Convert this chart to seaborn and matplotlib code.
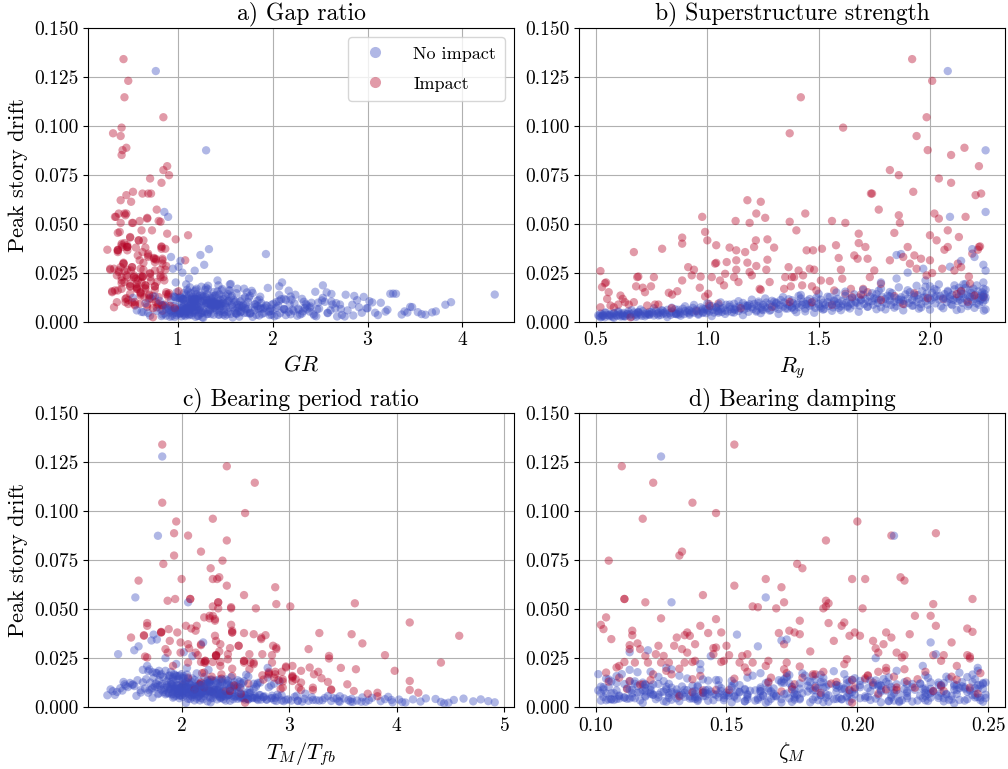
import numpy as np
import pandas as pd
import matplotlib
matplotlib.use("Agg")
import matplotlib.pyplot as plt
import seaborn as sns
from matplotlib.lines import Line2D
from matplotlib.ticker import MultipleLocator, FormatStrFormatter

# ---------------------------------------------------------------------------
# Isolation-system parameter study: one row per ground-motion run.
# Columns: gap ratio, superstructure strength Ry, bearing period ratio,
# bearing damping, peak story drift.  Runs split by whether impact occurred.
# ---------------------------------------------------------------------------

# Runs with moat-wall impact
red_ry = [
    0.52, 0.52, 0.527, 0.54, 0.545, 0.557, 0.55, 0.565, 0.58, 0.60,
    0.61, 0.62, 0.63, 0.647, 0.655, 0.67, 0.67, 0.685, 0.68, 0.69,
    0.71, 0.72, 0.73, 0.747, 0.76, 0.765, 0.78, 0.797, 0.827, 0.842,
    0.865, 0.887, 0.887, 0.887, 0.914, 0.94, 0.93, 0.97, 0.966, 0.977,
    0.99, 1.00, 0.99, 1.004, 1.007, 1.02, 1.035, 1.04, 1.04, 1.057,
    1.075, 1.08, 1.087, 1.10, 1.127, 1.13, 1.13, 1.13, 1.12, 1.14,
    1.17, 1.18, 1.18, 1.19, 1.19, 1.20, 1.21, 1.218, 1.22, 1.24,
    1.22, 1.235, 1.24, 1.26, 1.265, 1.27, 1.27, 1.28, 1.30, 1.345,
    1.35, 1.365, 1.37, 1.37, 1.375, 1.38, 1.39, 1.40, 1.41, 1.42,
    1.426, 1.43, 1.44, 1.446, 1.46, 1.47, 1.475, 1.48, 1.49, 1.515,
    1.51, 1.55, 1.56, 1.57, 1.578, 1.59, 1.60, 1.606, 1.61, 1.62,
    1.62, 1.645, 1.66, 1.675, 1.68, 1.68, 1.69, 1.70, 1.71, 1.72,
    1.735, 1.74, 1.75, 1.77, 1.78, 1.73, 1.82, 1.82, 1.84, 1.86,
    1.86, 1.865, 1.88, 1.90, 1.91, 1.92, 1.925, 1.93, 1.94, 1.94,
    1.96, 1.985, 1.99, 1.985, 2.00, 2.00, 2.01, 2.02, 2.01, 2.03,
    2.04, 2.04, 2.055, 2.065, 2.08, 2.08, 2.095, 2.095, 2.11, 2.125,
    2.13, 2.14, 2.155, 2.16, 2.175, 2.19, 2.205, 2.215, 2.22, 2.22,
    2.23, 2.225, 2.18, 2.20, 1.01, 1.05, 1.37, 1.47, 1.56, 1.65,
    1.72, 1.78, 1.84, 1.88, 1.93, 1.99, 2.06, 2.12, 2.17, 2.24,
    1.29, 1.15, 0.95, 0.84, 2.14,
]
red_drift = [
    0.0258, 0.0073, 0.0176, 0.0196, 0.0200, 0.0150, 0.0116, 0.0082, 0.0073, 0.0087,
    0.0133, 0.0116, 0.0099, 0.0087, 0.0022, 0.0355, 0.0099, 0.0227, 0.0180, 0.0230,
    0.0173, 0.0150, 0.0082, 0.0180, 0.0227, 0.0087, 0.0087, 0.0372, 0.0147, 0.0138,
    0.0155, 0.0398, 0.0429, 0.0210, 0.0278, 0.0265, 0.0236, 0.0230, 0.0173, 0.0535,
    0.0458, 0.0415, 0.0128, 0.0142, 0.0090, 0.0227, 0.0296, 0.0300, 0.0390, 0.0210,
    0.0185, 0.0244, 0.0304, 0.0378, 0.0514, 0.0364, 0.0313, 0.0265, 0.0227, 0.0202,
    0.0355, 0.0301, 0.0620, 0.0504, 0.0253, 0.0236, 0.0381, 0.0415, 0.0552, 0.0612,
    0.0284, 0.0167, 0.0162, 0.0530, 0.0265, 0.0316, 0.0420, 0.0202, 0.0378, 0.0167,
    0.0227, 0.0278, 0.0962, 0.0510, 0.0180, 0.0227, 0.0227, 0.0466, 0.0261, 0.1146,
    0.0185, 0.0236, 0.0552, 0.0364, 0.0270, 0.0180, 0.0364, 0.0265, 0.0159, 0.0372,
    0.0210, 0.0207, 0.0514, 0.0159, 0.0390, 0.0325, 0.0265, 0.0219, 0.0991, 0.0504,
    0.0142, 0.0167, 0.0338, 0.0321, 0.0449, 0.0401, 0.0138, 0.0167, 0.0381, 0.0321,
    0.0654, 0.0654, 0.0261, 0.0572, 0.0193, 0.0227, 0.0774, 0.0313, 0.0453, 0.0748,
    0.0543, 0.0504, 0.0330, 0.0381, 0.0296, 0.1341, 0.0663, 0.0338, 0.0948, 0.0270,
    0.0321, 0.1044, 0.0876, 0.0236, 0.0313, 0.0441, 0.1230, 0.0552, 0.0248, 0.0415,
    0.0731, 0.0526, 0.0270, 0.0367, 0.0381, 0.0466, 0.0851, 0.0709, 0.0261, 0.0296,
    0.0432, 0.0278, 0.0888, 0.0535, 0.0230, 0.0347, 0.0646, 0.0367, 0.0381, 0.0794,
    0.0654, 0.0384, 0.0193, 0.0133, 0.0080, 0.0092, 0.0100, 0.0099, 0.0085, 0.0125,
    0.0150, 0.0110, 0.0130, 0.0090, 0.0145, 0.0120, 0.0115, 0.0140, 0.0100, 0.0125,
    0.0075, 0.0068, 0.0055, 0.0068, 0.0155,
]
red_gr = [
    0.44, 0.33, 0.57, 0.41, 0.62, 0.31, 0.45, 0.84, 0.78, 0.55,
    0.61, 0.70, 0.36, 0.68, 0.74, 0.37, 0.45, 0.47, 0.50, 0.63,
    0.57, 0.61, 0.55, 0.76, 0.54, 0.79, 0.87, 0.87, 0.61, 0.70,
    0.31, 0.41, 0.50, 0.41, 0.52, 0.87, 0.54, 0.63, 0.66, 0.34,
    0.39, 0.64, 0.90, 0.61, 0.48, 0.82, 0.43, 0.64, 0.41, 0.86,
    0.66, 0.71, 0.76, 0.66, 0.80, 0.37, 0.84, 0.29, 0.63, 0.78,
    0.63, 0.43, 0.40, 0.52, 0.38, 0.82, 0.47, 0.59, 0.44, 0.51,
    0.88, 0.57, 0.76, 0.68, 0.47, 0.77, 0.98, 0.44, 0.56, 0.41,
    0.71, 0.40, 0.32, 0.82, 0.50, 0.85, 0.54, 0.62, 0.76, 0.44,
    0.66, 0.36, 0.46, 0.47, 0.29, 0.76, 0.37, 0.64, 0.34, 0.83,
    0.58, 0.72, 0.60, 0.37, 0.47, 0.75, 0.82, 0.56, 0.41, 0.53,
    0.50, 0.66, 0.69, 0.75, 0.89, 0.44, 0.90, 0.57, 0.47, 0.84,
    0.72, 0.69, 0.51, 0.78, 0.50, 0.41, 0.85, 0.60, 0.37, 0.91,
    0.45, 0.40, 0.69, 0.42, 0.84, 0.43, 0.53, 0.58, 0.40, 0.33,
    0.77, 0.85, 0.42, 0.46, 1.08, 1.11, 0.48, 0.38, 0.71, 0.59,
    0.71, 0.68, 0.61, 0.26, 0.83, 0.73, 0.41, 0.83, 0.38, 0.43,
    0.50, 0.52, 0.46, 0.35, 0.61, 0.69, 0.46, 0.37, 0.47, 0.89,
    0.63, 0.83, 0.57, 0.70, 0.92, 0.80, 0.77, 0.52, 0.83, 0.65,
    0.88, 0.48, 0.74, 0.60, 0.91, 0.46, 0.73, 0.88, 0.55, 0.80,
    0.68, 0.97, 0.84, 0.74, 1.01,
]
red_tm = [
    1.66, 4.20, 2.21, 2.47, 3.48, 2.86, 3.54, 3.60, 3.82, 4.12,
    4.12, 2.17, 2.94, 3.11, 2.59, 1.53, 3.22, 2.22, 2.81, 2.36,
    2.19, 3.03, 2.45, 2.87, 2.58, 3.22, 3.39, 2.67, 3.30, 2.24,
    3.03, 1.88, 1.68, 1.92, 2.13, 2.32, 2.58, 2.29, 2.81, 2.34,
    2.21, 2.04, 3.36, 2.94, 3.39, 2.67, 1.85, 2.07, 2.47, 3.03,
    3.11, 2.43, 2.88, 3.28, 2.29, 1.65, 2.53, 2.84, 4.41, 2.97,
    2.74, 2.45, 2.42, 2.34, 1.68, 2.22, 1.81, 2.14, 1.94, 2.87,
    2.35, 3.23, 2.75, 3.61, 2.15, 2.18, 2.46, 3.19, 2.58, 2.87,
    2.64, 1.99, 2.29, 2.46, 2.93, 2.06, 2.84, 2.26, 2.32, 2.68,
    3.98, 2.58, 2.08, 4.58, 2.43, 3.27, 2.31, 3.89, 3.03, 3.58,
    2.36, 2.97, 3.01, 2.47, 2.13, 3.68, 2.32, 2.67, 2.59, 2.69,
    3.06, 2.81, 1.89, 2.06, 2.31, 2.09, 2.90, 2.37, 2.47, 2.18,
    2.00, 2.33, 3.37, 2.58, 3.62, 2.21, 1.93, 2.53, 2.26, 2.38,
    1.87, 2.46, 1.99, 1.81, 2.88, 1.82, 2.35, 2.32, 1.95, 2.75,
    2.36, 1.82, 2.06, 2.22, 2.85, 2.31, 2.42, 2.08, 3.37, 1.68,
    1.83, 2.88, 2.63, 2.78, 1.96, 2.29, 2.42, 2.27, 2.32, 3.18,
    4.12, 1.87, 1.93, 2.34, 2.18, 2.74, 1.60, 1.65, 2.47, 2.18,
    2.29, 1.81, 2.63, 3.03, 2.41, 2.92, 2.54, 3.09, 2.26, 2.18,
    2.06, 2.49, 2.94, 2.12, 2.37, 2.62, 2.01, 2.76, 2.21, 3.11,
    2.29, 2.55, 3.82, 3.73, 2.28,
]
red_zeta = [
    0.243, 0.186, 0.104, 0.132, 0.211, 0.167, 0.118, 0.229, 0.141, 0.197,
    0.113, 0.176, 0.222, 0.151, 0.198, 0.131, 0.243, 0.115, 0.208, 0.137,
    0.173, 0.109, 0.233, 0.158, 0.125, 0.215, 0.146, 0.178, 0.203, 0.121,
    0.236, 0.103, 0.189, 0.165, 0.135, 0.218, 0.149, 0.111, 0.247, 0.119,
    0.104, 0.140, 0.192, 0.223, 0.175, 0.160, 0.133, 0.207, 0.114, 0.238,
    0.127, 0.196, 0.146, 0.170, 0.188, 0.201, 0.124, 0.229, 0.155, 0.108,
    0.213, 0.145, 0.153, 0.169, 0.217, 0.138, 0.148, 0.230, 0.111, 0.171,
    0.182, 0.122, 0.204, 0.189, 0.242, 0.113, 0.102, 0.157, 0.143, 0.184,
    0.128, 0.215, 0.118, 0.162, 0.226, 0.173, 0.134, 0.222, 0.119, 0.122,
    0.211, 0.166, 0.244, 0.197, 0.123, 0.187, 0.136, 0.151, 0.204, 0.220,
    0.109, 0.178, 0.160, 0.140, 0.174, 0.116, 0.233, 0.195, 0.146, 0.202,
    0.137, 0.183, 0.206, 0.138, 0.146, 0.242, 0.198, 0.129, 0.211, 0.172,
    0.165, 0.198, 0.156, 0.141, 0.218, 0.120, 0.132, 0.130, 0.125, 0.105,
    0.188, 0.187, 0.236, 0.176, 0.113, 0.153, 0.2165, 0.191, 0.200, 0.145,
    0.210, 0.137, 0.213, 0.232, 0.150, 0.178, 0.110, 0.111, 0.243, 0.194,
    0.177, 0.229, 0.158, 0.134, 0.199, 0.228, 0.188, 0.179, 0.126, 0.117,
    0.195, 0.208, 0.230, 0.172, 0.148, 0.106, 0.218, 0.114, 0.135, 0.133,
    0.203, 0.244, 0.172, 0.219, 0.171, 0.112, 0.215, 0.184, 0.141, 0.206,
    0.179, 0.232, 0.105, 0.211, 0.153, 0.190, 0.117, 0.238, 0.199, 0.166,
    0.137, 0.208, 0.132, 0.246, 0.214,
]

# Runs without impact
blue_ry = [
    0.51, 0.515, 0.52, 0.525, 0.53, 0.535, 0.54, 0.545, 0.55, 0.56,
    0.565, 0.57, 0.575, 0.58, 0.59, 0.595, 0.60, 0.605, 0.61, 0.615,
    0.62, 0.625, 0.63, 0.64, 0.645, 0.65, 0.655, 0.66, 0.67, 0.675,
    0.68, 0.685, 0.69, 0.70, 0.705, 0.71, 0.72, 0.725, 0.73, 0.735,
    0.74, 0.75, 0.755, 0.76, 0.77, 0.775, 0.78, 0.79, 0.795, 0.80,
    0.81, 0.815, 0.82, 0.83, 0.835, 0.84, 0.85, 0.855, 0.86, 0.87,
    0.875, 0.88, 0.89, 0.895, 0.90, 0.91, 0.915, 0.92, 0.93, 0.935,
    0.94, 0.95, 0.955, 0.96, 0.97, 0.975, 0.98, 0.99, 0.995, 1.00,
    1.005, 1.01, 1.02, 1.025, 1.03, 1.04, 1.045, 1.05, 1.06, 1.065,
    1.07, 1.08, 1.085, 1.09, 1.10, 1.105, 1.11, 1.12, 1.125, 1.13,
    1.14, 1.145, 1.15, 1.16, 1.165, 1.17, 1.18, 1.185, 1.19, 1.20,
    1.205, 1.21, 1.22, 1.225, 1.23, 1.24, 1.245, 1.25, 1.26, 1.265,
    1.27, 1.28, 1.285, 1.29, 1.30, 1.305, 1.31, 1.32, 1.325, 1.33,
    1.34, 1.345, 1.35, 1.36, 1.365, 1.37, 1.38, 1.385, 1.39, 1.40,
    1.405, 1.41, 1.42, 1.425, 1.43, 1.44, 1.445, 1.45, 1.46, 1.465,
    1.47, 1.48, 1.485, 1.49, 1.50, 1.505, 1.51, 1.52, 1.525, 1.53,
    1.54, 1.545, 1.55, 1.56, 1.565, 1.57, 1.58, 1.585, 1.59, 1.60,
    1.605, 1.61, 1.62, 1.625, 1.63, 1.64, 1.645, 1.65, 1.66, 1.665,
    1.67, 1.68, 1.685, 1.69, 1.70, 1.705, 1.71, 1.72, 1.725, 1.73,
    1.74, 1.745, 1.75, 1.76, 1.765, 1.77, 1.78, 1.785, 1.79, 1.80,
    1.805, 1.81, 1.82, 1.825, 1.83, 1.84, 1.845, 1.85, 1.86, 1.865,
    1.87, 1.88, 1.885, 1.89, 1.90, 1.905, 1.91, 1.92, 1.925, 1.93,
    1.94, 1.945, 1.95, 1.96, 1.965, 1.97, 1.98, 1.985, 1.99, 2.00,
    2.005, 2.01, 2.02, 2.025, 2.03, 2.04, 2.045, 2.05, 2.06, 2.065,
    2.07, 2.075, 2.08, 2.09, 2.095, 2.10, 2.105, 2.11, 2.12, 2.125,
    2.13, 2.135, 2.14, 2.145, 2.15, 2.155, 2.16, 2.165, 2.17, 2.175,
    2.18, 2.185, 2.19, 2.195, 2.20, 2.205, 2.21, 2.215, 2.22, 2.225,
    2.23, 2.232, 2.235, 2.238, 2.24, 2.242, 2.245, 2.247, 2.25, 2.25,
    0.53, 0.58, 0.63, 0.69, 0.74, 0.79, 0.86, 0.92, 0.98, 1.05,
    1.12, 1.18, 1.25, 1.31, 1.38, 1.44, 1.51, 1.57, 1.63, 1.69,
    1.76, 1.82, 1.87, 1.93, 1.98, 2.03, 2.09, 2.14, 2.19, 2.24,
    0.52, 0.54, 0.56, 0.58, 0.60, 0.62, 0.64, 0.66, 0.68, 0.69,
    0.70, 0.72, 0.74, 0.76, 0.78, 0.80, 0.82, 0.84, 0.86, 0.87,
    0.88, 0.90, 0.92, 0.94, 0.96, 0.98, 1.00, 1.02, 1.04, 1.05,
    1.06, 1.08, 1.10, 1.12, 1.14, 1.16, 1.18, 1.20, 1.22, 1.23,
    1.24, 1.26, 1.28, 1.30, 1.32, 1.34, 1.36, 1.38, 1.40, 1.41,
    1.42, 1.44, 1.46, 1.48, 1.50, 1.52, 1.54, 1.56, 1.58, 1.59,
    1.60, 1.62, 1.64, 1.66, 1.68, 1.70, 1.72, 1.74, 1.76, 1.77,
    1.78, 1.80, 1.82, 1.84, 1.86, 1.88, 1.90, 1.92, 1.94, 1.95,
    1.96, 1.98, 2.00, 2.02, 2.04, 2.06, 2.08, 2.10, 2.11, 2.12,
    2.13, 2.14, 2.16, 2.17, 2.18, 2.20, 2.21, 2.22, 2.24, 2.25,
    2.08, 2.25, 2.25, 2.09, 2.19, 1.87, 1.85, 2.20, 2.14, 2.24,
    2.09, 1.97, 2.25, 1.90, 1.85, 1.98, 2.24, 1.78, 2.00, 2.15,
]
blue_drift = [
    0.0032, 0.0028, 0.0041, 0.0025, 0.0036, 0.0030, 0.0022, 0.0045, 0.0034, 0.0027,
    0.0038, 0.0030, 0.0024, 0.0043, 0.0033, 0.0029, 0.0048, 0.0035, 0.0026, 0.0040,
    0.0033, 0.0044, 0.0028, 0.0037, 0.0052, 0.0031, 0.0039, 0.0024, 0.0046, 0.0035,
    0.0040, 0.0032, 0.0047, 0.0036, 0.0029, 0.0053, 0.0041, 0.0034, 0.0044, 0.0038,
    0.0035, 0.0049, 0.0042, 0.0031, 0.0055, 0.0039, 0.0045, 0.0033, 0.0058, 0.0041,
    0.0046, 0.0037, 0.0060, 0.0043, 0.0034, 0.0051, 0.0040, 0.0063, 0.0044, 0.0036,
    0.0050, 0.0042, 0.0066, 0.0038, 0.0054, 0.0047, 0.0059, 0.0035, 0.0049, 0.0070,
    0.0045, 0.0061, 0.0052, 0.0040, 0.0073, 0.0056, 0.0048, 0.0064, 0.0043, 0.0058,
    0.0067, 0.0051, 0.0079, 0.0060, 0.0046, 0.0071, 0.0055, 0.0083, 0.0063, 0.0049,
    0.0069, 0.0057, 0.0086, 0.0052, 0.0075, 0.0064, 0.0048, 0.0091, 0.0060, 0.0072,
    0.0054, 0.0078, 0.0066, 0.0095, 0.0061, 0.0083, 0.0070, 0.0050, 0.0088, 0.0074,
    0.0065, 0.0090, 0.0057, 0.0080, 0.0102, 0.0071, 0.0062, 0.0085, 0.0076, 0.0097,
    0.0068, 0.0088, 0.0059, 0.0106, 0.0079, 0.0072, 0.0093, 0.0064, 0.0084, 0.0110,
    0.0076, 0.0098, 0.0067, 0.0089, 0.0114, 0.0081, 0.0070, 0.0095, 0.0060, 0.0086,
    0.0092, 0.0073, 0.0118, 0.0084, 0.0101, 0.0066, 0.0088, 0.0107, 0.0079, 0.0095,
    0.0083, 0.0104, 0.0070, 0.0122, 0.0090, 0.0077, 0.0112, 0.0096, 0.0065, 0.0087,
    0.0099, 0.0080, 0.0126, 0.0091, 0.0072, 0.0109, 0.0085, 0.0116, 0.0094, 0.0078,
    0.0105, 0.0088, 0.0131, 0.0097, 0.0074, 0.0113, 0.0092, 0.0120, 0.0083, 0.0101,
    0.0096, 0.0123, 0.0081, 0.0108, 0.0137, 0.0090, 0.0115, 0.0077, 0.0102, 0.0128,
    0.0104, 0.0086, 0.0119, 0.0140, 0.0095, 0.0111, 0.0073, 0.0126, 0.0099, 0.0116,
    0.0091, 0.0132, 0.0108, 0.0085, 0.0145, 0.0101, 0.0121, 0.0079, 0.0113, 0.0097,
    0.0124, 0.0106, 0.0088, 0.0139, 0.0117, 0.0094, 0.0150, 0.0110, 0.0082, 0.0128,
    0.0101, 0.0135, 0.0115, 0.0090, 0.0155, 0.0122, 0.0104, 0.0143, 0.0086, 0.0118,
    0.0109, 0.0147, 0.0125, 0.0093, 0.0160, 0.0113, 0.0131, 0.0078, 0.0120, 0.0140,
    0.0117, 0.0099, 0.0152, 0.0128, 0.0089, 0.0136, 0.0111, 0.0165, 0.0122, 0.0104,
    0.0130, 0.0112, 0.0158, 0.0096, 0.0141, 0.0119, 0.0172, 0.0107, 0.0133, 0.0088,
    0.0125, 0.0146, 0.0103, 0.0168, 0.0116, 0.0137, 0.0093, 0.0154, 0.0121, 0.0108,
    0.0132, 0.0115, 0.0149, 0.0100, 0.0127, 0.0056, 0.0141, 0.0110, 0.0163, 0.0123,
    0.0030, 0.0042, 0.0026, 0.0050, 0.0036, 0.0047, 0.0039, 0.0055, 0.0044, 0.0052,
    0.0063, 0.0081, 0.0058, 0.0097, 0.0074, 0.0089, 0.0068, 0.0104, 0.0080, 0.0112,
    0.0118, 0.0129, 0.0112, 0.0138, 0.0124, 0.0131, 0.0115, 0.0142, 0.0127, 0.0134,
    0.0021, 0.0046, 0.0033, 0.0019, 0.0052, 0.0027, 0.0040, 0.0058, 0.0024, 0.0044,
    0.0062, 0.0027, 0.0049, 0.0068, 0.0031, 0.0055, 0.0023, 0.0071, 0.0038, 0.0060,
    0.0030, 0.0078, 0.0042, 0.0085, 0.0035, 0.0066, 0.0092, 0.0028, 0.0074, 0.0045,
    0.0098, 0.0039, 0.0087, 0.0046, 0.0104, 0.0033, 0.0079, 0.0112, 0.0051, 0.0094,
    0.0043, 0.0118, 0.0056, 0.0101, 0.0039, 0.0125, 0.0066, 0.0109, 0.0048, 0.0131,
    0.0136, 0.0052, 0.0115, 0.0045, 0.0142, 0.0061, 0.0127, 0.0055, 0.0149, 0.0070,
    0.0058, 0.0153, 0.0067, 0.0139, 0.0050, 0.0162, 0.0075, 0.0145, 0.0063, 0.0158,
    0.0168, 0.0062, 0.0151, 0.0071, 0.0175, 0.0057, 0.0160, 0.0081, 0.0183, 0.0066,
    0.0072, 0.0178, 0.0061, 0.0166, 0.0190, 0.0068, 0.0157, 0.0084, 0.0185, 0.0059,
    0.0173, 0.0064, 0.0192, 0.0079, 0.0161, 0.0070, 0.0185, 0.0086, 0.0168, 0.0062,
    0.1280, 0.0875, 0.0560, 0.0535, 0.0370, 0.0345, 0.0340, 0.0330, 0.0310, 0.0290,
    0.0280, 0.0270, 0.0260, 0.0250, 0.0220, 0.0210, 0.0200, 0.0200, 0.0180, 0.0190,
]
blue_tm = [
    2.45, 3.12, 2.08, 4.05, 2.71, 3.46, 4.48, 1.98, 2.93, 3.67,
    2.62, 3.85, 2.27, 2.14, 3.28, 4.71, 1.92, 2.86, 3.59, 2.39,
    3.02, 2.55, 4.22, 2.79, 2.01, 3.39, 2.33, 4.91, 2.18, 3.74,
    2.48, 3.18, 2.66, 3.95, 2.24, 2.90, 4.36, 2.12, 3.51, 2.59,
    3.31, 2.37, 2.06, 3.08, 2.51, 4.15, 2.83, 3.63, 1.95, 2.70,
    2.29, 2.97, 2.43, 3.44, 2.17, 2.76, 3.89, 2.34, 2.61, 3.22,
    2.56, 3.14, 2.22, 4.02, 2.41, 2.87, 2.09, 3.55, 2.68, 2.15,
    2.36, 2.73, 3.05, 2.20, 2.47, 3.36, 2.58, 2.11, 4.62, 2.84,
    2.31, 2.65, 2.04, 2.93, 3.41, 2.19, 2.77, 1.97, 2.44, 3.68,
    1.88, 2.07, 1.62, 2.26, 1.92, 2.58, 1.73, 2.13, 1.31, 1.96,
    1.93, 2.19, 2.36, 1.66, 2.03, 2.24, 1.79, 2.10, 2.47, 1.88,
    1.85, 2.08, 1.58, 2.31, 1.77, 2.02, 1.38, 2.19, 1.83, 2.45,
    2.13, 2.39, 1.98, 1.75, 2.28, 2.05, 2.67, 1.91, 2.18, 2.01,
    2.17, 1.73, 1.92, 2.29, 1.54, 2.09, 1.86, 2.55, 2.00, 1.70,
    1.94, 1.69, 2.16, 1.45, 2.04, 1.78, 2.34, 1.56, 1.98, 2.11,
    2.26, 1.87, 2.11, 2.42, 1.72, 2.15, 1.96, 2.51, 2.07, 2.30,
    1.99, 2.23, 1.64, 1.90, 2.37, 1.80, 2.12, 1.47, 1.95, 2.27,
    2.14, 1.84, 2.01, 2.33, 1.62, 1.97, 2.21, 1.76, 2.40, 2.06,
    1.43, 1.52, 1.36, 1.48, 1.59, 1.34, 1.55, 1.40, 1.50, 1.46,
    2.52, 2.13, 2.86, 2.38, 2.07, 2.17, 2.61, 2.26, 1.99, 2.42,
    2.17, 2.58, 1.95, 2.33, 2.06, 2.81, 2.25, 2.01, 2.44, 2.15,
    2.32, 2.11, 2.63, 2.27, 1.91, 2.45, 2.80, 2.18, 2.39, 2.05,
    2.14, 2.43, 1.90, 2.30, 2.62, 2.07, 2.35, 1.97, 2.19, 2.55,
    2.36, 2.02, 2.73, 2.20, 1.88, 2.48, 2.91, 2.12, 2.34, 2.28,
    2.20, 1.94, 2.46, 2.09, 1.81, 2.32, 2.02, 2.60, 2.24, 1.89,
    2.54, 2.23, 1.96, 2.09, 2.41, 2.67, 2.14, 2.12, 2.30, 1.99,
    2.38, 2.10, 2.69, 1.93, 2.27, 2.52, 2.03, 2.21, 2.03, 2.46,
    2.24, 2.70, 2.01, 2.49, 2.26, 2.16, 2.35, 2.83, 1.94, 2.57,
    4.85, 3.58, 4.41, 3.21, 4.53, 3.77, 4.78, 3.47, 4.27, 3.92,
    2.89, 2.25, 3.07, 2.12, 2.64, 2.32, 3.15, 2.04, 2.53, 2.18,
    2.22, 2.37, 1.86, 2.12, 2.71, 2.04, 2.26, 1.92, 2.49, 2.16,
    2.04, 3.33, 2.41, 4.44, 2.15, 3.71, 2.62, 1.99, 3.96, 2.27,
    2.12, 3.47, 2.36, 1.96, 2.88, 2.21, 4.08, 2.01, 2.74, 2.30,
    2.95, 2.07, 2.52, 1.93, 3.25, 2.18, 1.89, 3.57, 2.10, 2.66,
    1.84, 2.79, 2.03, 2.57, 1.91, 3.08, 2.14, 1.78, 2.49, 1.97,
    2.61, 1.82, 2.39, 2.00, 2.99, 1.71, 2.28, 1.92, 2.70, 1.86,
    1.79, 2.54, 2.08, 2.84, 1.67, 2.43, 1.90, 2.35, 1.74, 2.22,
    2.47, 1.83, 2.34, 1.95, 2.76, 1.80, 2.19, 1.88, 2.56, 2.02,
    1.81, 2.38, 1.92, 2.63, 1.76, 2.50, 1.98, 2.27, 1.69, 2.44,
    2.32, 1.73, 2.59, 2.05, 1.64, 2.41, 1.95, 2.20, 1.85, 2.68,
    1.77, 2.53, 1.70, 2.24, 1.89, 2.36, 1.79, 2.15, 2.00, 2.72,
    1.82, 1.78, 1.57, 2.06, 1.74, 1.77, 1.72, 2.20, 1.60, 1.56,
    2.02, 1.41, 2.10, 1.85, 1.95, 1.68, 2.05, 2.80, 1.90, 2.25,
]
blue_gr = [
    1.12, 0.94, 2.31, 1.65, 1.48, 0.71, 1.26, 3.08, 1.83, 2.46,
    1.35, 0.88, 1.79, 1.61, 2.05, 1.22, 0.64, 1.43, 2.68, 1.02,
    1.15, 1.73, 0.83, 2.19, 1.04, 2.44, 1.56, 0.92, 3.42, 1.38,
    1.08, 0.99, 1.66, 3.36, 1.21, 1.97, 0.86, 2.73, 1.91, 1.31,
    1.44, 2.17, 1.03, 1.86, 0.78, 1.62, 2.58, 1.97, 1.34, 0.95,
    1.18, 1.52, 0.91, 2.58, 1.07, 3.19, 1.24, 0.82, 1.70, 2.29,
    1.29, 1.06, 1.85, 1.11, 2.22, 0.98, 1.41, 3.61, 0.62, 1.23,
    1.76, 0.96, 1.64, 1.32, 2.91, 1.08, 1.49, 2.12, 1.77, 1.02,
    1.37, 2.39, 0.87, 2.13, 1.25, 1.55, 1.01, 1.93, 2.47, 1.44,
    1.09, 1.60, 2.84, 0.93, 1.19, 1.74, 3.53, 1.46, 3.21, 1.15,
    1.27, 1.12, 1.88, 1.39, 0.99, 2.36, 2.04, 1.53, 1.07, 1.68,
    1.14, 1.43, 0.57, 1.67, 2.62, 1.10, 2.36, 1.19, 1.51, 1.36,
    1.03, 1.81, 1.24, 2.07, 0.97, 1.58, 1.30, 2.72, 1.17, 1.45,
    1.21, 3.05, 1.63, 1.35, 2.09, 1.16, 0.90, 1.48, 2.28, 1.99,
    1.11, 1.39, 1.05, 1.72, 2.55, 2.27, 1.14, 1.54, 0.95, 1.32,
    1.25, 1.61, 1.87, 0.98, 1.42, 1.09, 1.86, 2.41, 1.20, 2.63,
    1.13, 1.47, 2.96, 2.01, 1.06, 1.36, 1.57, 1.19, 0.66, 1.40,
    1.26, 2.18, 1.76, 1.44, 3.47, 1.17, 1.33, 1.02, 1.65, 2.33,
    1.37, 1.15, 1.94, 1.28, 2.77, 1.50, 1.20, 2.40, 1.34, 0.76,
    1.19, 1.63, 1.04, 1.31, 1.88, 2.14, 1.45, 0.97, 3.88, 2.12,
    1.41, 1.23, 2.52, 1.69, 1.14, 1.38, 2.53, 1.21, 1.06, 1.52,
    1.30, 0.81, 1.82, 1.09, 1.43, 2.67, 0.99, 1.59, 1.35, 2.19,
    1.24, 1.12, 1.48, 2.35, 1.18, 0.71, 1.66, 3.27, 1.39, 1.10,
    1.33, 1.07, 1.71, 2.23, 1.46, 1.13, 2.86, 1.36, 1.01, 1.53,
    1.18, 1.60, 2.45, 0.96, 1.40, 2.07, 1.15, 1.32, 1.75, 3.02,
    1.28, 1.05, 1.55, 3.14, 1.20, 1.37, 1.95, 1.84, 1.25, 1.45,
    1.17, 1.79, 1.02, 1.63, 2.31, 2.24, 1.14, 1.42, 0.53, 1.21,
    1.39, 1.06, 1.73, 2.04, 1.48, 1.19, 2.62, 1.31, 1.10, 1.56,
    1.50, 1.00, 2.76, 1.32, 0.84, 3.68, 1.13, 2.00, 1.26, 3.72,
    0.88, 1.41, 1.12, 2.48, 1.06, 1.30, 2.99, 1.18, 1.44, 0.93,
    1.22, 1.36, 1.09, 4.34, 1.27, 1.51, 1.15, 3.30, 1.03, 1.40,
    1.58, 0.91, 2.14, 1.27, 3.39, 1.04, 1.76, 2.61, 1.19, 0.69,
    1.33, 2.02, 1.09, 1.71, 2.85, 1.45, 0.97, 1.92, 3.57, 1.22,
    2.26, 1.14, 1.62, 0.85, 1.99, 2.49, 1.31, 1.08, 1.81, 2.94,
    1.40, 1.89, 2.71, 1.16, 1.53, 3.11, 1.05, 2.20, 1.67, 1.28,
    2.08, 1.35, 0.94, 1.74, 2.43, 1.21, 1.98, 2.89, 1.12, 1.57,
    1.26, 2.32, 1.68, 1.03, 3.24, 1.49, 1.87, 1.17, 2.57, 1.39,
    1.81, 1.11, 2.66, 1.44, 1.96, 1.29, 3.45, 1.62, 1.07, 2.17,
    1.20, 1.72, 1.38, 2.39, 1.13, 2.79, 1.54, 2.06, 1.32, 1.90,
    1.64, 1.25, 2.21, 1.47, 1.09, 3.00, 1.78, 1.36, 2.53, 1.16,
    1.30, 2.12, 1.56, 1.84, 1.19, 2.34, 1.43, 3.82, 1.70, 1.01,
    0.77, 1.30, 0.86, 0.90, 1.33, 1.93, 1.24, 0.93, 1.03, 1.28,
    1.01, 0.95, 1.18, 1.05, 1.12, 1.42, 0.98, 2.10, 2.07, 1.55,
]
blue_zeta = [
    0.143, 0.221, 0.108, 0.187, 0.239, 0.126, 0.165, 0.201, 0.117, 0.248,
    0.176, 0.132, 0.209, 0.154, 0.102, 0.233, 0.188, 0.145, 0.216, 0.123,
    0.241, 0.113, 0.197, 0.162, 0.138, 0.227, 0.106, 0.182, 0.249, 0.149,
    0.171, 0.212, 0.128, 0.235, 0.157, 0.119, 0.194, 0.226, 0.137, 0.183,
    0.104, 0.245, 0.167, 0.139, 0.203, 0.178, 0.115, 0.223, 0.151, 0.192,
    0.231, 0.129, 0.186, 0.109, 0.217, 0.158, 0.242, 0.133, 0.174, 0.205,
    0.147, 0.198, 0.121, 0.236, 0.169, 0.111, 0.213, 0.185, 0.139, 0.228,
    0.162, 0.244, 0.103, 0.191, 0.134, 0.219, 0.176, 0.122, 0.207, 0.153,
    0.238, 0.114, 0.181, 0.149, 0.225, 0.107, 0.196, 0.166, 0.132, 0.213,
    0.173, 0.231, 0.118, 0.204, 0.141, 0.188, 0.247, 0.127, 0.164, 0.219,
    0.136, 0.192, 0.227, 0.112, 0.158, 0.243, 0.179, 0.124, 0.209, 0.150,
    0.199, 0.131, 0.236, 0.167, 0.105, 0.214, 0.146, 0.183, 0.125, 0.239,
    0.168, 0.222, 0.109, 0.193, 0.154, 0.128, 0.248, 0.176, 0.211, 0.139,
    0.117, 0.185, 0.234, 0.143, 0.206, 0.163, 0.102, 0.226, 0.189, 0.135,
    0.218, 0.151, 0.124, 0.197, 0.241, 0.172, 0.113, 0.208, 0.137, 0.182,
    0.159, 0.232, 0.106, 0.174, 0.195, 0.129, 0.246, 0.148, 0.216, 0.121,
    0.187, 0.119, 0.228, 0.163, 0.142, 0.209, 0.101, 0.237, 0.178, 0.155,
    0.133, 0.214, 0.171, 0.245, 0.116, 0.192, 0.157, 0.224, 0.138, 0.201,
    0.166, 0.108, 0.229, 0.184, 0.147, 0.243, 0.122, 0.198, 0.175, 0.211,
    0.139, 0.226, 0.115, 0.203, 0.168, 0.247, 0.131, 0.187, 0.152, 0.219,
    0.194, 0.126, 0.237, 0.161, 0.104, 0.213, 0.178, 0.144, 0.231, 0.119,
    0.172, 0.240, 0.134, 0.196, 0.111, 0.225, 0.158, 0.206, 0.148, 0.182,
    0.221, 0.143, 0.189, 0.103, 0.234, 0.165, 0.127, 0.210, 0.176, 0.248,
    0.137, 0.199, 0.118, 0.228, 0.160, 0.192, 0.106, 0.242, 0.153, 0.184,
    0.212, 0.129, 0.173, 0.244, 0.114, 0.205, 0.147, 0.186, 0.233, 0.121,
    0.166, 0.238, 0.108, 0.195, 0.141, 0.224, 0.179, 0.116, 0.201, 0.157,
    0.231, 0.135, 0.188, 0.110, 0.215, 0.170, 0.246, 0.124, 0.196, 0.152,
    0.181, 0.119, 0.227, 0.163, 0.240, 0.142, 0.105, 0.209, 0.174, 0.248,
    0.212, 0.138, 0.175, 0.246, 0.107, 0.193, 0.158, 0.226, 0.131, 0.184,
    0.249, 0.163, 0.119, 0.204, 0.141, 0.237, 0.176, 0.102, 0.219, 0.155,
    0.128, 0.197, 0.232, 0.146, 0.171, 0.113, 0.208, 0.245, 0.186, 0.152,
    0.118, 0.203, 0.161, 0.237, 0.134, 0.189, 0.106, 0.224, 0.152, 0.178,
    0.245, 0.127, 0.196, 0.143, 0.216, 0.109, 0.171, 0.232, 0.139, 0.208,
    0.157, 0.229, 0.112, 0.184, 0.247, 0.131, 0.199, 0.166, 0.121, 0.219,
    0.192, 0.105, 0.238, 0.149, 0.175, 0.214, 0.126, 0.201, 0.163, 0.241,
    0.136, 0.221, 0.168, 0.103, 0.194, 0.249, 0.145, 0.181, 0.228, 0.115,
    0.207, 0.153, 0.119, 0.233, 0.172, 0.128, 0.218, 0.141, 0.187, 0.104,
    0.169, 0.242, 0.138, 0.198, 0.111, 0.226, 0.155, 0.235, 0.124, 0.183,
    0.101, 0.177, 0.212, 0.147, 0.239, 0.164, 0.132, 0.205, 0.191, 0.158,
    0.226, 0.116, 0.186, 0.244, 0.140, 0.197, 0.173, 0.108, 0.215, 0.150,
    0.163, 0.234, 0.129, 0.209, 0.180, 0.114, 0.246, 0.142, 0.195, 0.122,
    0.125, 0.214, 0.165, 0.129, 0.154, 0.173, 0.171, 0.228, 0.162, 0.120,
    0.113, 0.230, 0.144, 0.207, 0.140, 0.225, 0.127, 0.246, 0.121, 0.113,
]

labels = ["No impact", "Impact"]
colors = {"No impact": "#3b4cc0", "Impact": "#b40426"}

panel_titles = ["a) Gap ratio", "b) Superstructure strength",
                "c) Bearing period ratio", "d) Bearing damping"]
panel_xlabels = [r"$GR$", r"$R_y$", r"$T_M/T_{fb}$", r"$\zeta_M$"]
ytick_step = 0.025

# ---------------------------------------------------------------------------
blue = pd.DataFrame({"gap_ratio": blue_gr, "strength": blue_ry,
                     "period_ratio": blue_tm, "damping": blue_zeta,
                     "drift": blue_drift})
blue["impact"] = labels[0]
red = pd.DataFrame({"gap_ratio": red_gr, "strength": red_ry,
                    "period_ratio": red_tm, "damping": red_zeta,
                    "drift": red_drift})
red["impact"] = labels[1]
# interleave the two groups so neither colour is always painted on top
runs = (pd.concat([blue, red], ignore_index=True)
        .sort_values("damping", kind="stable").reset_index(drop=True))

plt.rcParams.update({
    "font.family": "serif",
    "font.serif": ["cmr10", "DejaVu Serif"],
    "mathtext.fontset": "cm",
    "axes.formatter.use_mathtext": True,
    "axes.unicode_minus": False,
})

fig, axes = plt.subplots(2, 2, figsize=(10.08, 7.69), dpi=100)
fig.subplots_adjust(left=0.0873, right=0.997, top=0.9636, bottom=0.0806,
                    wspace=0.152, hspace=0.313)

columns = ["gap_ratio", "strength", "period_ratio", "damping"]
x_steps = [1.0, 0.5, 1.0, 0.05]
x_formats = ["%d", "%.1f", "%d", "%.2f"]

for i, ax in enumerate(axes.flat):
    sns.scatterplot(data=runs, x=columns[i], y="drift", hue="impact",
                    hue_order=labels, palette=colors, alpha=0.4, s=36,
                    linewidth=0, edgecolor="none", legend=False, ax=ax)
    ax.set_ylim(0, 0.15)
    ax.yaxis.set_major_locator(MultipleLocator(ytick_step))
    ax.yaxis.set_major_formatter(FormatStrFormatter("%.3f"))
    ax.xaxis.set_major_locator(MultipleLocator(x_steps[i]))
    ax.xaxis.set_major_formatter(FormatStrFormatter(x_formats[i]))
    ax.grid(True, color="#b0b0b0", linewidth=0.8)
    ax.set_axisbelow(True)
    ax.tick_params(labelsize=14)
    ax.set_title(panel_titles[i], fontsize=17)
    ax.set_xlabel(panel_xlabels[i], fontsize=16)
    ax.set_ylabel("Peak story drift" if i % 2 == 0 else "", fontsize=16)

handles = [Line2D([], [], linestyle="", marker="o", markersize=8,
                  markeredgewidth=0, color=colors[k], alpha=0.4)
           for k in labels]
axes[0, 0].legend(handles, labels, loc="upper right", fontsize=13,
                  handletextpad=1.1, labelspacing=0.8, borderpad=0.5)

fig.savefig("out.png", dpi=100)
